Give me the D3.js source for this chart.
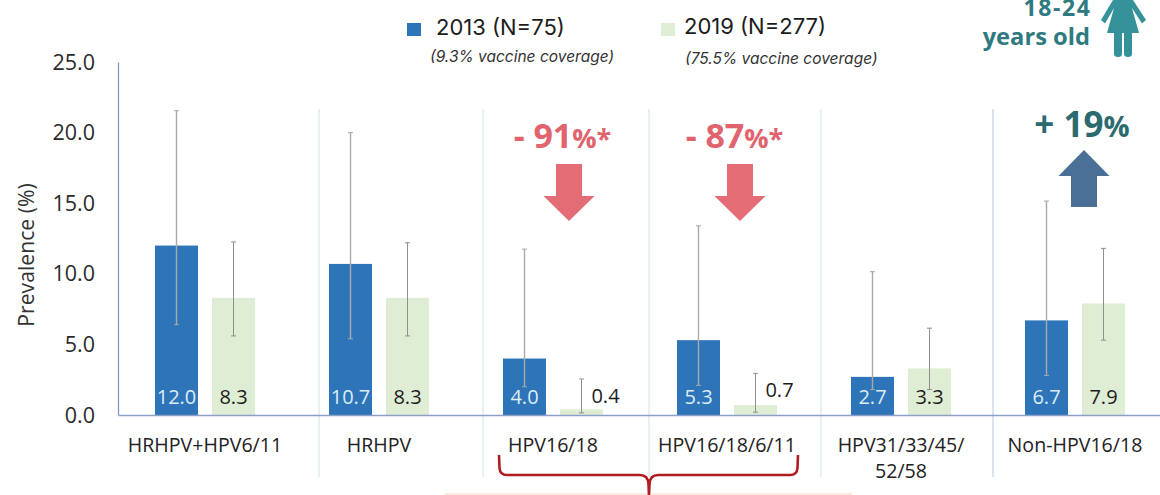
<!DOCTYPE html>
<html><head><meta charset="utf-8">
<script src="https://cdn.jsdelivr.net/npm/d3@7"></script>
<style>html,body{margin:0;padding:0;background:#fff;overflow:hidden}svg{display:block;font-family:"Open Sans",sans-serif}</style>
</head><body><svg id="c" width="1160" height="495"></svg>
<script>
const categories = ["HRHPV+HPV6/11","HRHPV","HPV16/18","HPV16/18/6/11","HPV31/33/45/52/58","Non-HPV16/18"];
const seriesNames = ["2013","2019"];
const values2013 = [12.0,10.7,4.0,5.3,2.7,6.7];
const values2019 = [8.3,8.3,0.4,0.7,3.3,7.9];
const low2013  = [6.4,5.4,2.0,2.1,1.8,2.8];
const high2013 = [21.55,20.0,11.75,13.4,10.15,15.15];
const low2019  = [5.6,5.6,0.15,0.2,1.8,5.3];
const high2019 = [12.25,12.2,2.55,2.95,6.15,11.8];
const yTicks = [0,5,10,15,20,25];
const separatorsAt = [319,483,649,821,993];

const svg = d3.select("#c");
const x = d3.scaleBand().domain(categories).range([118,1162]);
const xs = d3.scaleBand().domain(seriesNames).range([37,137]).paddingInner(14/57);
const y = d3.scaleLinear().domain([0,25]).range([415,62]);
const colors = {"2013":"#2e74b8","2019":"#e0edd5"};
const data = [["2013",values2013,low2013,high2013],["2019",values2019,low2019,high2019]];

// pink box at the bottom edge
svg.append("rect").attr("x",445).attr("y",493).attr("width",407).attr("height",2).attr("fill","#fdeadf");

// separators
svg.append("g").selectAll("line").data(separatorsAt).join("line")
  .attr("x1",d=>d).attr("x2",d=>d).attr("y1",109).attr("y2",477)
  .attr("stroke",(d,i)=>i===4?"#b4c6dc":"#cfe0e8").attr("stroke-width",1);

// bars
data.forEach(([s,vals])=>{
  svg.append("g").selectAll("rect").data(vals).join("rect")
    .attr("x",(d,i)=>x(categories[i])+xs(s)).attr("width",xs.bandwidth())
    .attr("y",d=>y(d)).attr("height",d=>y(0)-y(d)).attr("fill",colors[s]);
});

// error bars
data.forEach(([s,vals,lo,hi])=>{
  const g = svg.append("g").attr("stroke",s==="2013"?"#a9a9a9":"#8f8f8f").attr("stroke-width",s==="2013"?1.4:1).attr("fill","none");
  vals.forEach((v,i)=>{
    const cx = x(categories[i])+xs(s)+xs.bandwidth()/2;
    g.append("line").attr("x1",cx).attr("x2",cx).attr("y1",y(lo[i])).attr("y2",y(hi[i]));
    [lo[i],hi[i]].forEach(e=>g.append("line").attr("stroke-width",1).attr("x1",cx-2.5).attr("x2",cx+2.5).attr("y1",y(e)).attr("y2",y(e)));
  });
});

// value labels
data.forEach(([s,vals])=>{
  svg.append("g").selectAll("text").data(vals).join("text")
    .attr("x",(d,i)=>{
      const c = x(categories[i])+xs(s)+xs.bandwidth()/2;
      return d<1 ? c+24 : c;
    })
    .attr("y",d=>d===0.7?397:d===0.4?403:404)
    .attr("text-anchor","middle").attr("font-size",20)
    .attr("fill",s==="2013"?"#dcedf8":"#1c1c1c")
    .text(d=>d.toFixed(1));
});

// y axis
const ya = svg.append("g").attr("transform","translate(118,0)")
  .call(d3.axisLeft(y).tickValues(yTicks).tickFormat(d3.format(".1f")).tickSize(0).tickPadding(23));
ya.select(".domain").attr("stroke","#7f97c6").attr("stroke-width",1.3);
ya.selectAll("text").attr("font-size",21.5).attr("fill","#2b2b2b").attr("dy",null)
  .attr("y",7).attr("font-family",'"Open Sans",sans-serif');

// x axis
const xa = svg.append("g").attr("transform","translate(0,415)")
  .call(d3.axisBottom(x).tickSize(0).tickFormat(""));
xa.select(".domain").attr("stroke","#8ba0c8").attr("stroke-width",1.5);
const wrapped = {"HPV31/33/45/52/58":["HPV31/33/45/","52/58"]};
svg.append("g").selectAll("text").data(categories).join("text")
  .attr("text-anchor","middle").attr("font-size",19.6).attr("fill","#222")
  .attr("transform",d=>`translate(${x(d)+x.bandwidth()/2},452)`)
  .each(function(d){
    (wrapped[d]||[d]).forEach((t,i)=>d3.select(this).append("tspan").attr("x",0).attr("y",i*26).text(t));
  });

// y title
svg.append("text").attr("transform","translate(34,255) rotate(-90)").attr("text-anchor","middle")
  .attr("font-size",21.2).attr("fill","#333").text("Prevalence (%)");

// legend
const legend = [[407,"2013 (N=75)",436,35,"(9.3% vaccine coverage)",430,61.5,"2013"],
                [661,"2019 (N=277)",684,34,"(75.5% vaccine coverage)",685,63.5,"2019"]];
legend.forEach(([sx,t,tx,ty,sub,subx,suby,s])=>{
  svg.append("rect").attr("x",sx).attr("y",23).attr("width",14).attr("height",13).attr("fill",colors[s]);
  svg.append("text").attr("x",tx).attr("y",ty).attr("font-size",22).attr("font-family","Inter,sans-serif").attr("fill","#1c1c1c").text(t);
  svg.append("text").attr("x",subx).attr("y",suby).attr("font-size",15.5).attr("font-style","italic").attr("font-family","Inter,sans-serif").attr("fill","#333").text(sub);
});

// change annotations
function change(big,small,cx,by,col,bs,ss){
  const t = svg.append("text").attr("x",cx).attr("y",by).attr("text-anchor","middle").attr("font-weight",700).attr("fill",col);
  t.append("tspan").attr("font-size",bs).text(big);
  t.append("tspan").attr("font-size",ss).text(small);
}
change("- 91","%*",562.5,148,"#e0636d",34,27);
change("- 87","%*",734.5,148,"#e0636d",34,27);
change("+ 19","%",1082,137,"#2b6a6e",35,29);

function arrow(cx,tip,headBase,tail,col){
  svg.append("path").attr("fill",col).attr("d",
   d3.line()([[cx,tip],[cx+25.5,headBase],[cx+13,headBase],[cx+13,tail],[cx-13,tail],[cx-13,headBase],[cx-25.5,headBase]])+"Z");
}
arrow(569,221,196,164,"#e46d75");
arrow(740,221,196,164,"#e46d75");
arrow(1084,150,176,207,"#4a7097");

// age tag
svg.append("text").attr("x",1091.5).attr("y",16).attr("text-anchor","end").attr("font-size",23).attr("letter-spacing",1.6).attr("font-weight",700).attr("fill","#2f7a80").text("18-24");
svg.append("text").attr("x",1090).attr("y",45).attr("text-anchor","end").attr("font-size",23.7).attr("font-weight",700).attr("fill","#2f7a80").text("years old");
svg.append("path").attr("fill","#35929a").attr("d",
 "M1113,0 L1133,0 L1146,20 L1142,23.5 L1132,8 L1139,33 L1132,33 L1132,54 Q1132,57 1128,57 Q1124,57 1124,54 L1124,33 L1122,33 L1122,54 Q1122,57 1118,57 Q1114,57 1114,54 L1114,33 L1107,33 L1114,8 L1105,23.5 L1101,20 Z");

// bracket
svg.append("path").attr("fill","none").attr("stroke","#b01c22").attr("stroke-width",2.6)
 .attr("d","M499,455 L499.5,468 Q500,475 507,475 L640,475 Q648,475 648.5,484 L649,495 M649,495 L649.5,484 Q650,475 658,475 L790,475 Q797,475 797.5,468 L798,455");
</script></body></html>
